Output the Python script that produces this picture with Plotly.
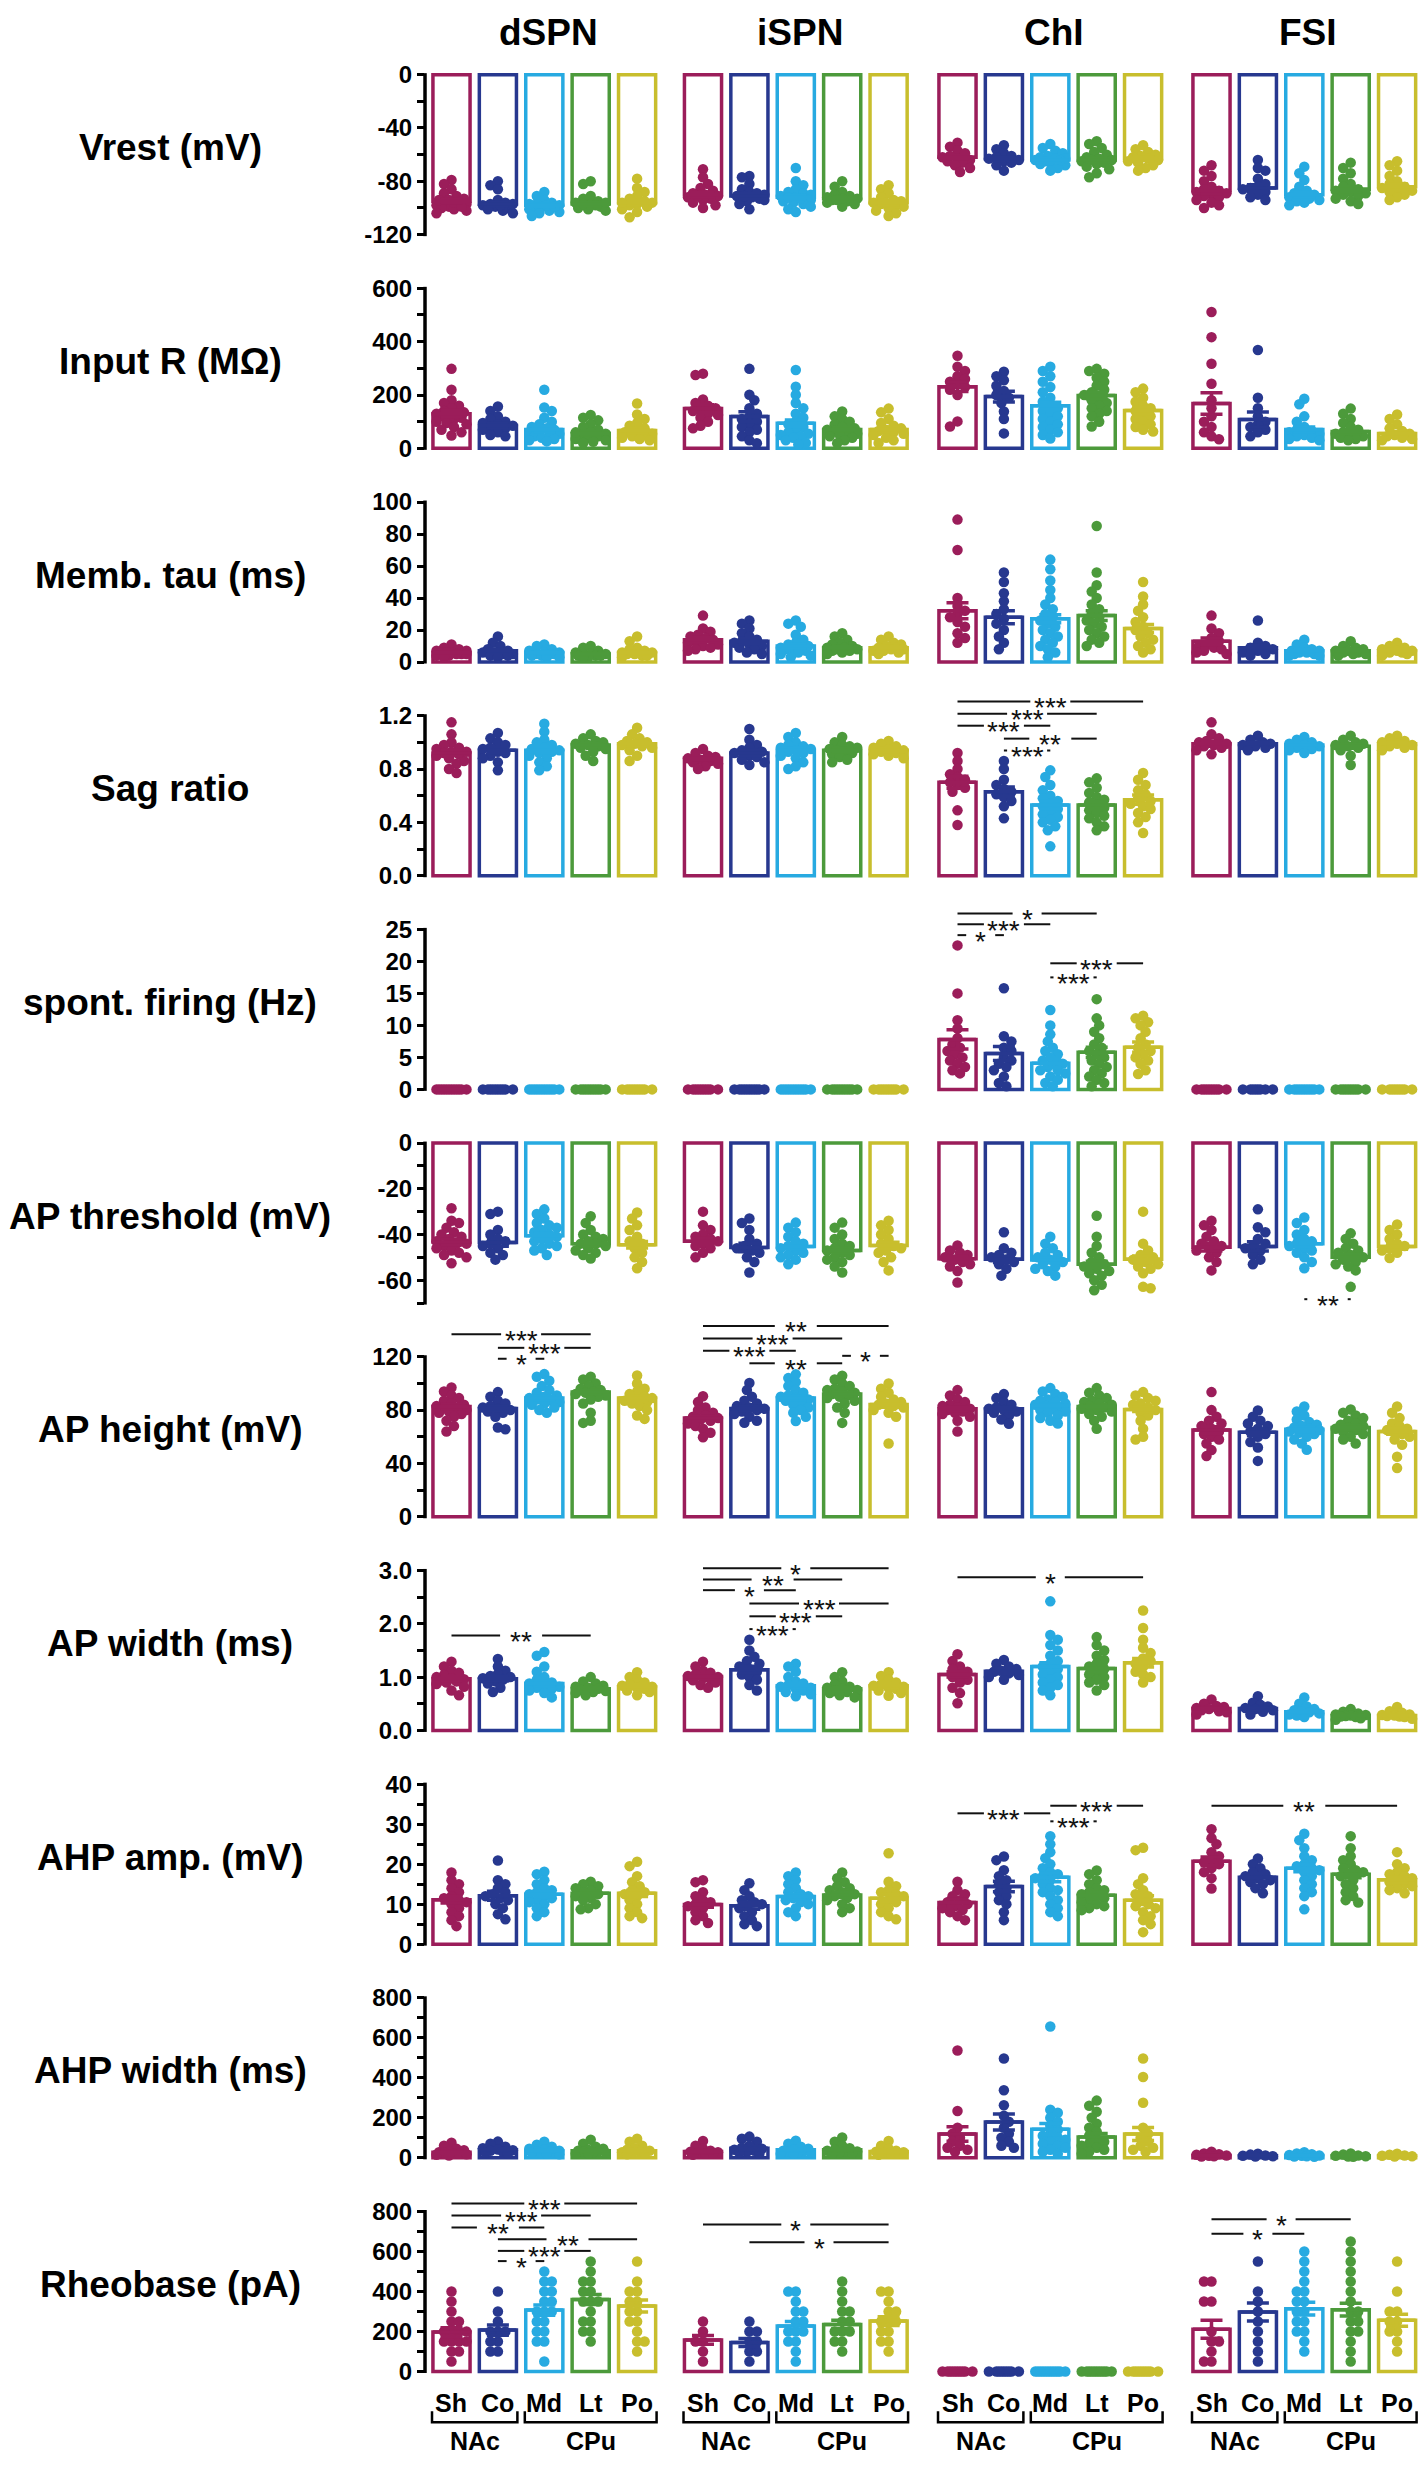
import math
import plotly.graph_objects as go

FONT = "Liberation Sans, Arial, Helvetica, sans-serif"

CELL_TYPES = ["dSPN", "iSPN", "ChI", "FSI"]
SUBREGIONS = ["Sh", "Co", "Md", "Lt", "Po"]
AREAS = ["NAc", "CPu"]
COLORS = ["#9B1D5A", "#27388F", "#27AAE1", "#4C9A3B", "#C8BE2D"]

ROW_LABELS = ["Vrest (mV)", "Input R (MΩ)", "Memb. tau (ms)", "Sag ratio",
              "spont. firing (Hz)", "AP threshold (mV)", "AP height (mV)",
              "AP width (ms)", "AHP amp. (mV)", "AHP width (ms)", "Rheobase (pA)"]

Y_TICKS = [
    [-120, -100, -80, -60, -40, -20, 0],
    [0, 100, 200, 300, 400, 500, 600],
    [0, 20, 40, 60, 80, 100],
    [0.0, 0.2, 0.4, 0.6, 0.8, 1.0, 1.2],
    [0, 5, 10, 15, 20, 25],
    [-70, -60, -50, -40, -30, -20, -10, 0],
    [0, 20, 40, 60, 80, 100, 120],
    [0.0, 0.5, 1.0, 1.5, 2.0, 2.5, 3.0],
    [0, 5, 10, 15, 20, 25, 30, 35, 40],
    [0, 100, 200, 300, 400, 500, 600, 700, 800],
    [0, 100, 200, 300, 400, 500, 600, 700, 800],
]
Y_TICK_TEXT = [
    ["-120", "", "-80", "", "-40", "", "0"],
    ["0", "", "200", "", "400", "", "600"],
    ["0", "20", "40", "60", "80", "100"],
    ["0.0", "", "0.4", "", "0.8", "", "1.2"],
    ["0", "5", "10", "15", "20", "25"],
    ["", "-60", "", "-40", "", "-20", "", "0"],
    ["0", "", "40", "", "80", "", "120"],
    ["0.0", "", "1.0", "", "2.0", "", "3.0"],
    ["0", "", "10", "", "20", "", "30", "", "40"],
    ["0", "", "200", "", "400", "", "600", "", "800"],
    ["0", "", "200", "", "400", "", "600", "", "800"],
]

# ---------------- data: means, SEM, individual cells ----------------
VREST_MEAN = [[-95, -97, -98, -97, -96], [-90, -91, -92, -93, -96],
              [-62, -63, -64, -64, -63], [-87, -85, -90, -86, -84]]
VREST_SEM = [[1.3, 1.4, 0.9, 1.1, 1.5], [1.6, 1.7, 1.3, 1.2, 1.4],
             [1.2, 1.3, 1.0, 1.3, 1.3], [2.2, 2.5, 1.8, 1.9, 2.0]]
VREST_DOTS = [
    [[-79, -82, -86, -89, -91, -93, -94, -95, -96, -97, -98, -99, -100, -101, -102, -104, -96, -94, -99],
     [-80, -83, -86, -94, -96, -97, -98, -99, -100, -101, -102, -104, -97, -98],
     [-88, -91, -94, -96, -97, -98, -99, -100, -101, -102, -103, -104, -106, -98, -99, -97],
     [-80, -82, -91, -93, -95, -96, -97, -98, -99, -100, -101, -102, -97, -96],
     [-78, -85, -88, -91, -93, -95, -96, -97, -98, -99, -101, -103, -107, -96]],
    [[-71, -77, -82, -85, -87, -89, -90, -91, -92, -93, -94, -96, -98, -100, -91],
     [-76, -77, -82, -86, -88, -89, -90, -91, -92, -93, -94, -95, -97, -101, -91],
     [-70, -80, -83, -86, -88, -89, -90, -91, -92, -93, -94, -95, -96, -97, -99, -101, -103, -92, -93],
     [-80, -84, -88, -90, -91, -92, -93, -94, -95, -96, -97, -99, -93, -94],
     [-83, -86, -89, -92, -94, -95, -96, -97, -98, -99, -100, -102, -104, -106, -96]],
    [[-51, -54, -57, -59, -61, -62, -63, -64, -65, -66, -68, -70, -73],
     [-53, -56, -59, -61, -62, -63, -64, -65, -66, -68, -72],
     [-52, -55, -57, -59, -61, -62, -63, -64, -65, -66, -67, -68, -70, -72, -63, -64],
     [-50, -52, -55, -58, -60, -62, -63, -64, -65, -66, -67, -69, -71, -74, -77, -64],
     [-53, -56, -58, -60, -61, -62, -63, -64, -65, -66, -68, -70, -72]],
    [[-68, -72, -76, -80, -84, -86, -87, -88, -89, -90, -91, -92, -94, -96, -98, -100],
     [-64, -70, -72, -78, -82, -84, -85, -86, -88, -90, -92, -94],
     [-69, -74, -79, -84, -87, -89, -90, -91, -92, -93, -94, -95, -96, -98],
     [-66, -70, -74, -78, -82, -84, -86, -87, -88, -89, -90, -91, -93, -95, -97],
     [-65, -68, -72, -76, -80, -82, -84, -85, -86, -87, -88, -90, -92, -94]],
]

INPUTR_MEAN = [[130, 86, 71, 56, 67], [149, 119, 94, 71, 71],
               [231, 194, 160, 198, 142], [168, 108, 71, 63, 56]]
INPUTR_SEM = [[12, 9, 10, 6, 9], [14, 18, 12, 6, 8],
              [18, 20, 13, 12, 11], [40, 28, 9, 7, 7]]
INPUTR_DOTS = [
    [[298, 220, 180, 170, 160, 150, 140, 130, 125, 120, 115, 110, 100, 95, 90, 80, 70, 60, 48, 135, 128],
     [157, 140, 120, 110, 100, 95, 90, 85, 80, 75, 70, 60, 50, 45],
     [220, 153, 140, 115, 100, 90, 80, 70, 65, 60, 55, 50, 45, 40, 35, 30, 26, 75],
     [125, 115, 105, 90, 80, 70, 60, 55, 50, 45, 40, 35, 30, 25, 20, 60],
     [168, 127, 110, 95, 85, 75, 65, 60, 55, 50, 45, 40, 35, 30]],
    [[280, 275, 183, 170, 160, 150, 145, 140, 130, 125, 115, 100, 85, 75],
     [298, 201, 180, 150, 130, 120, 110, 100, 90, 80, 70, 60, 45, 30, 19],
     [294, 231, 201, 170, 150, 130, 115, 100, 90, 80, 70, 60, 55, 50, 45, 40, 30, 20, 14],
     [138, 120, 110, 100, 90, 80, 75, 70, 65, 60, 55, 50, 45, 40, 30, 19],
     [149, 135, 110, 95, 85, 75, 70, 65, 60, 55, 50, 40, 30, 20]],
    [[347, 306, 290, 270, 260, 250, 240, 230, 220, 200, 101, 82],
     [287, 270, 255, 235, 215, 200, 190, 170, 138, 110, 56],
     [306, 290, 270, 250, 230, 210, 190, 175, 160, 150, 140, 130, 120, 110, 100, 90, 80, 70, 60, 50, 37],
     [298, 290, 280, 265, 250, 235, 220, 210, 200, 190, 180, 170, 160, 150, 140, 130, 120, 100, 82],
     [224, 210, 190, 175, 160, 150, 140, 130, 120, 110, 100, 90, 80, 70, 63]],
    [[511, 417, 317, 242, 180, 150, 120, 100, 80, 60, 45, 34],
     [369, 190, 150, 120, 100, 90, 80, 70, 60, 45],
     [186, 165, 120, 100, 80, 70, 65, 60, 55, 50, 45, 40, 35, 30],
     [149, 130, 110, 95, 80, 70, 60, 55, 50, 45, 40, 35, 30],
     [127, 110, 90, 75, 65, 55, 50, 45, 40, 35, 30]],
]

TAU_MEAN = [[6, 7, 6, 5, 6], [14, 13, 10, 9, 9], [32, 28, 27, 29, 21], [13, 9, 7, 7, 7]]
TAU_SEM = [[0.5, 0.9, 0.6, 0.4, 0.8], [1.4, 1.6, 1.1, 0.7, 0.7],
           [5.0, 4.0, 2.5, 3.0, 2.5], [2.0, 1.6, 0.7, 0.6, 0.6]]
TAU_DOTS = [
    [[11, 9, 8, 7, 7, 6, 6, 6, 5, 5, 5, 4, 4, 3],
     [16, 12, 10, 8, 7, 6, 6, 5, 5, 4, 4, 3],
     [11, 10, 8, 7, 6, 6, 5, 5, 5, 4, 4, 3, 3],
     [10, 9, 7, 6, 5, 5, 5, 4, 4, 4, 3, 3],
     [16, 13, 9, 8, 7, 6, 6, 5, 5, 4, 4, 3]],
    [[29, 21, 19, 17, 16, 15, 14, 13, 12, 11, 10, 9, 8, 7],
     [26, 24, 21, 18, 16, 14, 13, 12, 11, 10, 9, 8, 6, 5],
     [26, 24, 22, 17, 14, 12, 11, 10, 9, 9, 8, 8, 7, 6, 5, 4, 3],
     [18, 16, 14, 12, 11, 10, 9, 9, 8, 8, 7, 7, 6, 5],
     [16, 14, 12, 11, 10, 9, 9, 8, 8, 7, 7, 6, 5]],
    [[89, 70, 40, 35, 32, 30, 28, 25, 22, 18, 15, 12],
     [56, 50, 43, 38, 33, 30, 27, 24, 20, 16, 12, 8],
     [64, 58, 51, 45, 40, 36, 33, 30, 28, 26, 24, 22, 20, 18, 16, 14, 12, 10, 8, 6, 3],
     [85, 56, 48, 44, 40, 36, 33, 30, 28, 26, 24, 22, 20, 18, 16, 14, 12, 10],
     [50, 41, 36, 32, 28, 25, 22, 20, 18, 16, 14, 12, 10, 8, 6]],
    [[29, 21, 18, 15, 13, 11, 10, 9, 8, 7, 6, 5],
     [26, 12, 10, 9, 8, 7, 6, 5, 4],
     [14, 11, 9, 8, 7, 7, 6, 6, 5, 5, 4, 4],
     [13, 10, 9, 8, 7, 7, 6, 6, 5, 5, 4],
     [12, 10, 9, 8, 7, 7, 6, 6, 5, 4]],
]

SAG_MEAN = [[0.92, 0.94, 0.94, 0.98, 0.99], [0.88, 0.92, 0.94, 0.94, 0.94],
            [0.70, 0.63, 0.53, 0.53, 0.57], [0.99, 0.99, 0.98, 0.97, 0.99]]
SAG_SEM = [[0.02, 0.02, 0.02, 0.01, 0.015], [0.012, 0.02, 0.015, 0.012, 0.012],
           [0.045, 0.035, 0.03, 0.025, 0.035], [0.02, 0.012, 0.01, 0.015, 0.012]]
SAG_DOTS = [
    [[1.15, 1.06, 1.0, 0.98, 0.96, 0.95, 0.93, 0.92, 0.91, 0.90, 0.88, 0.86, 0.84, 0.80, 0.77, 0.93],
     [1.07, 1.03, 1.0, 0.98, 0.96, 0.95, 0.93, 0.92, 0.90, 0.88, 0.85, 0.79],
     [1.14, 1.08, 1.02, 1.0, 0.98, 0.96, 0.95, 0.94, 0.93, 0.92, 0.90, 0.88, 0.85, 0.82, 0.79],
     [1.06, 1.03, 1.01, 1.0, 0.99, 0.98, 0.97, 0.96, 0.95, 0.93, 0.90, 0.86],
     [1.11, 1.06, 1.03, 1.01, 1.0, 0.99, 0.98, 0.97, 0.96, 0.94, 0.90, 0.86]],
    [[0.95, 0.92, 0.90, 0.89, 0.88, 0.87, 0.86, 0.85, 0.84, 0.82, 0.80],
     [1.10, 1.02, 0.98, 0.96, 0.94, 0.93, 0.92, 0.90, 0.89, 0.87, 0.85, 0.83],
     [1.07, 1.04, 1.0, 0.98, 0.97, 0.96, 0.95, 0.94, 0.93, 0.92, 0.90, 0.88, 0.85, 0.82, 0.80],
     [1.04, 1.0, 0.98, 0.97, 0.96, 0.95, 0.94, 0.93, 0.92, 0.91, 0.89, 0.87, 0.85],
     [1.01, 0.99, 0.97, 0.96, 0.95, 0.94, 0.93, 0.92, 0.91, 0.90, 0.88]],
    [[0.92, 0.86, 0.80, 0.76, 0.74, 0.72, 0.70, 0.68, 0.66, 0.63, 0.49, 0.38],
     [0.86, 0.80, 0.72, 0.68, 0.65, 0.63, 0.61, 0.59, 0.56, 0.52, 0.43],
     [0.79, 0.74, 0.68, 0.64, 0.60, 0.58, 0.56, 0.54, 0.52, 0.50, 0.48, 0.46, 0.44, 0.42, 0.40, 0.37, 0.34, 0.22],
     [0.73, 0.70, 0.66, 0.62, 0.59, 0.57, 0.55, 0.53, 0.51, 0.49, 0.47, 0.45, 0.43, 0.40, 0.37, 0.34],
     [0.77, 0.72, 0.68, 0.64, 0.61, 0.58, 0.56, 0.54, 0.52, 0.50, 0.47, 0.44, 0.40, 0.32]],
    [[1.15, 1.06, 1.03, 1.01, 1.0, 0.99, 0.98, 0.97, 0.96, 0.94, 0.91],
     [1.05, 1.02, 1.0, 0.99, 0.98, 0.97, 0.96, 0.94],
     [1.04, 1.02, 1.0, 0.99, 0.98, 0.97, 0.96, 0.95, 0.94, 0.92],
     [1.05, 1.02, 1.0, 0.99, 0.98, 0.97, 0.96, 0.94, 0.90, 0.83],
     [1.05, 1.03, 1.01, 1.0, 0.99, 0.98, 0.97, 0.96, 0.94]],
]

SPONT_MEAN = [[0, 0, 0, 0, 0], [0, 0, 0, 0, 0], [7.8, 5.6, 4.1, 5.8, 6.6], [0, 0, 0, 0, 0]]
SPONT_SEM = [[0, 0, 0, 0, 0], [0, 0, 0, 0, 0], [1.5, 1.1, 0.7, 0.8, 0.8], [0, 0, 0, 0, 0]]
SPONT_DOTS = [
    [[0, 0, 0, 0, 0, 0, 0, 0, 0, 0, 0, 0], [0, 0, 0, 0, 0, 0, 0, 0, 0, 0],
     [0, 0, 0, 0, 0, 0, 0, 0, 0, 0, 0, 0], [0, 0, 0, 0, 0, 0, 0, 0, 0, 0, 0],
     [0, 0, 0, 0, 0, 0, 0, 0, 0, 0]],
    [[0, 0, 0, 0, 0, 0, 0, 0, 0, 0], [0, 0, 0, 0, 0, 0, 0, 0, 0, 0, 0],
     [0, 0, 0, 0, 0, 0, 0, 0, 0, 0, 0, 0], [0, 0, 0, 0, 0, 0, 0, 0, 0, 0, 0],
     [0, 0, 0, 0, 0, 0, 0, 0, 0, 0]],
    [[22.5, 15, 10.8, 9.5, 8, 7, 6.5, 6, 5.5, 5, 4.5, 4, 3.5, 3, 2.5],
     [15.8, 8.3, 7.5, 6.5, 6, 5, 4.5, 4, 3.5, 3, 2, 1, 0.5],
     [12.4, 10, 8.6, 7.5, 6.5, 6, 5.5, 5, 4.5, 4, 3.5, 3, 2.5, 2, 1.5, 1, 0.5, 4, 3],
     [14.1, 11.1, 10, 9, 8, 7, 6.5, 6, 5.5, 5, 4.5, 4, 3.5, 3, 2.5, 2, 1.5, 1, 0.5],
     [11.5, 11.1, 10.5, 10, 9, 8, 7, 6.5, 6, 5.5, 5, 4.5, 4, 3, 2.4]],
    [[0, 0, 0, 0, 0, 0, 0, 0, 0, 0], [0, 0, 0, 0, 0, 0, 0, 0],
     [0, 0, 0, 0, 0, 0, 0, 0, 0, 0, 0], [0, 0, 0, 0, 0, 0, 0, 0, 0, 0],
     [0, 0, 0, 0, 0, 0, 0, 0, 0]],
]

THRESH_MEAN = [[-43.3, -43.5, -40.5, -44, -44.5], [-43, -45.7, -45.2, -47, -44.8],
               [-50.6, -50.8, -51.2, -53, -50.8], [-45.6, -45.2, -44, -50, -45.2]]
THRESH_SEM = [[1.3, 1.6, 1.1, 0.9, 1.4], [1.3, 1.9, 1.1, 1.1, 1.4],
              [1.1, 1.3, 0.9, 1.3, 1.4], [1.6, 2.0, 1.3, 1.3, 1.2]]
THRESH_DOTS = [
    [[-28.5, -34, -35, -37, -39, -40, -41, -42, -43, -44, -45, -46, -47, -48, -49, -50, -52.6, -44],
     [-30, -31, -38, -40, -42, -43, -44, -45, -46, -48, -49, -51],
     [-29, -31, -33, -35, -36, -37, -38, -39, -40, -41, -42, -43, -44, -45, -46, -47, -49],
     [-32, -35, -38, -40, -41, -42, -43, -44, -45, -46, -47, -48, -49, -50.5, -44],
     [-30.4, -33, -36, -38, -41, -43, -44, -46, -48, -50, -52, -54.8]],
    [[-30, -36, -38, -40, -41, -42, -43, -44, -45, -46, -48, -50],
     [-33, -35, -38, -42, -44, -45, -46, -47, -48, -50, -52, -56.6],
     [-34.8, -37, -39, -41, -43, -44, -45, -46, -47, -48, -49, -50, -51, -53],
     [-34.8, -37, -40, -42, -44, -45, -46, -47, -48, -49, -50, -51, -52, -54, -56.6],
     [-34, -36, -38, -40, -42, -44, -45, -46, -47, -48, -50, -52, -55.7]],
    [[-44.8, -47, -48, -49, -50, -51, -52, -53, -54, -56, -61],
     [-39, -46, -48, -49, -50, -51, -52, -53, -55, -58],
     [-41, -44, -46, -48, -49, -50, -51, -52, -53, -54, -55, -56, -58],
     [-31.8, -41, -45, -48, -50, -52, -53, -54, -55, -56, -57, -58, -60, -62, -64.4],
     [-30, -44, -47, -49, -50, -51, -52, -53, -54, -55, -57, -62.9, -63.5]],
    [[-34, -36, -38, -41, -43, -44, -45, -46, -47, -48, -50, -52, -55.7],
     [-29, -36.8, -39, -42, -44, -45, -46, -47, -49, -51, -53],
     [-32.6, -35, -38, -40, -42, -43, -44, -45, -46, -47, -48, -50, -52, -54.8],
     [-39.5, -42, -44, -46, -47, -48, -49, -50, -51, -52, -53, -54, -55.7, -62.9],
     [-35.6, -38, -40, -42, -44, -45, -46, -47, -48, -50.3]],
]

HEIGHT_MEAN = [[82.7, 81.2, 89, 93.5, 89], [74, 81.2, 89, 92, 84.2],
               [81, 81, 83.5, 82.7, 80.5], [65, 63.3, 65.6, 67, 64]]
HEIGHT_SEM = [[1.6, 1.9, 1.4, 1.3, 1.6], [1.6, 1.9, 1.4, 1.3, 2.1],
              [1.3, 1.4, 1.1, 1.1, 1.5], [2.6, 2.6, 1.6, 1.6, 2.2]]
HEIGHT_DOTS = [
    [[97, 94, 91, 89, 87, 85, 84, 83, 82, 81, 80, 79, 78, 77, 75, 72, 68, 64],
     [93.5, 90, 87, 85, 83, 82, 81, 80, 79, 78, 75, 67, 65.6],
     [107, 105, 102, 98, 95, 93, 91, 90, 89, 88, 87, 86, 85, 84, 82, 80, 78],
     [105, 103, 100, 98, 96, 95, 94, 93, 92, 91, 90, 88, 85, 78, 72, 70.4],
     [106, 100, 96, 94, 92, 90, 89, 88, 87, 86, 85, 83, 80, 76, 73.4]],
    [[90.4, 86, 82, 80, 78, 76, 75, 74, 73, 72, 70, 68, 66, 63, 59.6],
     [100.3, 95, 90, 87, 85, 83, 82, 81, 80, 79, 77, 75, 72, 70.5],
     [106.8, 104, 101, 98, 95, 93, 91, 90, 89, 88, 87, 86, 84, 82, 80, 78, 75, 71.8],
     [105.8, 103, 100, 98, 96, 95, 94, 93, 92, 91, 90, 89, 87, 85, 82, 78, 70.4],
     [99.9, 96, 93, 90, 88, 86, 85, 84, 83, 82, 80, 78, 75, 54.9]],
    [[95, 91, 88, 86, 84, 83, 82, 81, 80, 79, 78, 77, 75, 72, 64],
     [92, 89, 86, 84, 82, 81, 80, 79, 78, 76, 73, 69.7],
     [96.5, 94, 92, 90, 88, 87, 86, 85, 84, 83, 82, 81, 80, 79, 78, 76, 74, 72, 70],
     [96.5, 93, 91, 89, 87, 86, 85, 84, 83, 82, 81, 80, 79, 77, 75, 72, 66],
     [93.5, 91, 89, 87, 85, 84, 82, 80, 78, 76, 72, 66, 60, 58]],
    [[93.5, 80, 75, 72, 70, 68, 66, 64, 62, 60, 58, 55, 50, 45.5],
     [79.7, 75, 72, 70, 68, 66, 64, 62, 60, 56, 52, 41.9],
     [82.7, 79, 76, 73, 71, 69, 68, 67, 66, 65, 64, 63, 62, 60, 58, 55, 50.2],
     [80.5, 78, 76, 74, 72, 70, 69, 68, 67, 66, 65, 64, 62, 60, 58, 55],
     [82.7, 78, 74, 70, 68, 66, 65, 64, 62, 60, 58, 54, 45, 36.5]],
]

WIDTH_MEAN = [[0.97, 0.97, 0.88, 0.78, 0.82], [1.01, 1.14, 0.84, 0.78, 0.84],
              [1.05, 1.11, 1.20, 1.16, 1.27], [0.41, 0.41, 0.35, 0.28, 0.28]]
WIDTH_SEM = [[0.035, 0.045, 0.045, 0.025, 0.035], [0.035, 0.065, 0.035, 0.025, 0.035],
             [0.05, 0.045, 0.07, 0.055, 0.08], [0.025, 0.025, 0.02, 0.012, 0.012]]
WIDTH_DOTS = [
    [[1.29, 1.2, 1.12, 1.08, 1.04, 1.0, 0.98, 0.96, 0.94, 0.92, 0.9, 0.87, 0.82, 0.75, 0.66],
     [1.34, 1.2, 1.12, 1.06, 1.02, 1.0, 0.98, 0.95, 0.92, 0.88, 0.8, 0.72],
     [1.47, 1.4, 1.2, 1.1, 1.0, 0.95, 0.9, 0.88, 0.85, 0.82, 0.8, 0.78, 0.75, 0.7, 0.62],
     [1.0, 0.92, 0.88, 0.84, 0.82, 0.8, 0.78, 0.76, 0.74, 0.72, 0.7, 0.66],
     [1.09, 1.0, 0.95, 0.9, 0.86, 0.84, 0.82, 0.8, 0.78, 0.75, 0.72, 0.66]],
    [[1.29, 1.2, 1.12, 1.08, 1.05, 1.02, 1.0, 0.98, 0.96, 0.94, 0.9, 0.85, 0.8],
     [1.7, 1.5, 1.38, 1.3, 1.25, 1.2, 1.15, 1.1, 1.05, 1.0, 0.95, 0.85, 0.75],
     [1.25, 1.2, 1.1, 1.0, 0.92, 0.88, 0.85, 0.82, 0.8, 0.78, 0.75, 0.72, 0.68, 0.64],
     [1.09, 1.0, 0.92, 0.86, 0.82, 0.8, 0.78, 0.76, 0.74, 0.72, 0.7, 0.66, 0.62],
     [1.09, 1.02, 0.95, 0.9, 0.86, 0.84, 0.82, 0.8, 0.78, 0.75, 0.7, 0.65]],
    [[1.43, 1.3, 1.2, 1.15, 1.1, 1.05, 1.0, 0.95, 0.9, 0.8, 0.7, 0.51],
     [1.32, 1.25, 1.2, 1.15, 1.12, 1.1, 1.07, 1.04, 1.0, 0.95],
     [2.42, 1.79, 1.7, 1.6, 1.5, 1.4, 1.3, 1.25, 1.2, 1.15, 1.1, 1.05, 1.0, 0.95, 0.9, 0.85, 0.8, 0.75, 0.66],
     [1.75, 1.6, 1.5, 1.4, 1.32, 1.25, 1.2, 1.15, 1.1, 1.05, 1.0, 0.95, 0.9, 0.85, 0.75],
     [2.25, 1.92, 1.7, 1.55, 1.45, 1.35, 1.3, 1.25, 1.2, 1.1, 1.05, 1.0, 0.9]],
    [[0.58, 0.5, 0.46, 0.44, 0.42, 0.4, 0.38, 0.36, 0.34, 0.3],
     [0.64, 0.52, 0.48, 0.45, 0.42, 0.4, 0.38, 0.35, 0.3],
     [0.62, 0.5, 0.45, 0.4, 0.38, 0.36, 0.34, 0.32, 0.3, 0.28, 0.25],
     [0.4, 0.35, 0.32, 0.3, 0.29, 0.28, 0.27, 0.26, 0.25, 0.23, 0.2],
     [0.44, 0.36, 0.33, 0.3, 0.29, 0.28, 0.27, 0.26, 0.25, 0.22]],
]

AHPAMP_MEAN = [[11.1, 12.1, 12.5, 12.7, 12.7], [9.9, 9.6, 11.9, 12.3, 11.5],
               [10.4, 14.4, 16.7, 12.2, 11.0], [20.7, 16.7, 19.0, 17.5, 16.1]]
AHPAMP_SEM = [[0.8, 1.1, 0.7, 0.5, 0.8], [0.7, 0.9, 0.6, 0.6, 0.9],
              [0.9, 1.3, 1.1, 0.8, 1.1], [1.1, 0.9, 0.9, 0.9, 0.7]]
AHPAMP_DOTS = [
    [[17.9, 16, 15, 14, 13, 12, 11.5, 11, 10.5, 10, 9, 8, 7, 6, 4.5],
     [20.9, 16, 15, 14, 13, 12.5, 12, 11.5, 11, 10, 9, 7.5, 6.2],
     [18.1, 17.5, 16, 15, 14, 13.5, 13, 12.5, 12, 11.5, 11, 10.5, 10, 9, 8, 7],
     [15.6, 15, 14.5, 14, 13.5, 13, 12.5, 12, 11.5, 11, 10, 9, 8.7],
     [20.6, 19.5, 17, 15.5, 14.5, 13.5, 13, 12.5, 12, 11, 10, 9, 8, 7, 6.5]],
    [[16, 15.5, 13, 12, 11, 10.5, 10, 9.5, 9, 8, 7, 6, 5.3],
     [15.2, 13.5, 12, 11, 10.5, 10, 9.5, 9, 8, 7, 6, 5, 4.5],
     [17.9, 17, 16, 15, 14, 13, 12.5, 12, 11.5, 11, 10.5, 10, 9, 8, 7],
     [17.9, 16.5, 15.5, 14.5, 14, 13.5, 13, 12.5, 12, 11.5, 11, 10, 9, 8],
     [22.7, 15.6, 14.5, 13.5, 13, 12.5, 12, 11, 10.5, 10, 9, 8, 7, 6.2]],
    [[15.6, 13.5, 12.5, 12, 11, 10.5, 10, 9.5, 9, 8.5, 8, 7, 6],
     [21.9, 21, 18.5, 17, 16, 15, 14, 13, 12, 11, 10, 8, 6],
     [27, 25, 23, 21.5, 20, 19, 18, 17.5, 17, 16.5, 16, 15, 14, 13.5, 13, 12, 11, 10, 9, 8, 7],
     [18.4, 17.5, 16, 15, 14, 13.5, 13, 12.5, 12, 11.5, 11, 10.5, 10, 9.5, 9, 8.5],
     [24.1, 23.5, 16.5, 15, 13.5, 12.5, 12, 11, 10, 9.5, 9, 8, 7, 6, 5, 3]],
    [[28.7, 26.5, 25, 23, 22, 21, 20.5, 20, 19, 18, 16.5, 13.9],
     [21.4, 20, 19, 18, 17.5, 17, 16.5, 16, 15.5, 15, 14, 12.7],
     [27.6, 26, 24, 22, 21, 20, 19.5, 19, 18.5, 18, 17, 16, 15, 14, 13, 12, 8.7],
     [27, 24, 22, 21, 20, 19, 18.5, 18, 17.5, 17, 16, 15, 14, 13, 12, 11, 10.4],
     [23, 20, 19, 18, 17.5, 17, 16.5, 16, 15.5, 15, 14.5, 14, 13.5, 12.7]],
]

AHPWIDTH_MEAN = [[28, 40, 35, 35, 35], [31, 48, 40, 40, 31],
                 [119, 179, 143, 104, 119], [12, 10, 12, 10, 10]]
AHPWIDTH_SEM = [[5, 5, 4, 4, 5], [5, 7, 5, 5, 5], [36, 40, 28, 18, 32], [1.5, 1.2, 1.2, 1, 1]]
AHPWIDTH_DOTS = [
    [[75, 60, 45, 38, 32, 28, 25, 22, 20, 18, 15, 12],
     [81, 70, 55, 48, 42, 38, 35, 30, 25, 20],
     [80, 65, 55, 45, 40, 35, 32, 30, 28, 25, 22, 20, 18],
     [90, 70, 55, 45, 40, 35, 32, 30, 28, 25, 22, 20],
     [95, 80, 60, 48, 40, 35, 30, 28, 25, 22, 18]],
    [[84, 60, 45, 35, 30, 28, 25, 22, 20, 15],
     [106, 95, 80, 60, 50, 45, 40, 35, 30, 25, 20],
     [85, 70, 55, 45, 40, 35, 32, 30, 28, 25, 22, 20],
     [102, 80, 60, 48, 40, 35, 32, 30, 28, 25, 22],
     [84, 60, 45, 35, 30, 28, 25, 22, 20, 15]],
    [[537, 234, 150, 120, 100, 80, 60, 50, 40, 30],
     [497, 338, 263, 210, 180, 150, 120, 100, 80, 60, 50],
     [657, 240, 225, 200, 180, 160, 140, 120, 110, 100, 90, 80, 70, 60, 50, 40, 30, 20],
     [286, 260, 230, 200, 170, 150, 130, 110, 90, 80, 70, 60, 50, 40, 30, 20],
     [497, 404, 275, 150, 120, 100, 80, 60, 50, 40, 30]],
    [[30, 22, 18, 15, 12, 10, 8, 6],
     [20, 16, 12, 10, 8, 6],
     [28, 22, 18, 14, 12, 10, 8, 6, 5],
     [22, 16, 12, 10, 8, 6, 5],
     [20, 15, 12, 10, 8, 6]],
]

RHEO_MEAN = [[197, 207, 307, 360, 327], [158, 145, 228, 235, 252],
             [0, 0, 0, 0, 0], [211, 298, 314, 309, 256]]
RHEO_SEM = [[22, 26, 26, 25, 30], [22, 20, 22, 21, 22], [0, 0, 0, 0, 0], [45, 45, 32, 32, 30]]
RHEO_DOTS = [
    [[400, 350, 300, 250, 200, 200, 200, 150, 150, 150, 150, 100, 100, 50, 200, 250],
     [400, 300, 250, 200, 200, 200, 150, 150, 100, 100],
     [500, 450, 450, 400, 400, 350, 350, 300, 300, 300, 250, 250, 200, 200, 150, 150, 50],
     [550, 500, 450, 450, 400, 400, 350, 350, 350, 300, 250, 250, 200, 200, 150],
     [550, 450, 400, 400, 350, 350, 300, 300, 250, 250, 200, 150, 150, 100]],
    [[250, 200, 150, 150, 100, 50],
     [250, 200, 200, 150, 150, 100, 100, 50],
     [400, 400, 350, 300, 300, 250, 250, 200, 200, 200, 150, 150, 100, 50],
     [450, 400, 350, 300, 300, 250, 250, 200, 200, 200, 150, 150, 100],
     [400, 400, 350, 300, 300, 250, 250, 250, 200, 200, 150, 150, 100]],
    [[0, 0, 0, 0, 0, 0, 0, 0, 0, 0], [0, 0, 0, 0, 0, 0, 0, 0, 0],
     [0, 0, 0, 0, 0, 0, 0, 0, 0, 0, 0, 0], [0, 0, 0, 0, 0, 0, 0, 0, 0, 0, 0],
     [0, 0, 0, 0, 0, 0, 0, 0, 0, 0]],
    [[450, 450, 350, 350, 200, 150, 150, 100, 50, 50],
     [550, 400, 350, 300, 250, 200, 150, 100, 50],
     [600, 550, 500, 450, 400, 400, 350, 350, 300, 300, 250, 250, 200, 200, 150, 100],
     [650, 600, 550, 500, 450, 400, 350, 300, 300, 250, 250, 200, 200, 150, 100, 50],
     [550, 400, 300, 300, 250, 250, 200, 200, 150, 100]],
]

ROWS = [
    (VREST_MEAN, VREST_SEM, VREST_DOTS),
    (INPUTR_MEAN, INPUTR_SEM, INPUTR_DOTS),
    (TAU_MEAN, TAU_SEM, TAU_DOTS),
    (SAG_MEAN, SAG_SEM, SAG_DOTS),
    (SPONT_MEAN, SPONT_SEM, SPONT_DOTS),
    (THRESH_MEAN, THRESH_SEM, THRESH_DOTS),
    (HEIGHT_MEAN, HEIGHT_SEM, HEIGHT_DOTS),
    (WIDTH_MEAN, WIDTH_SEM, WIDTH_DOTS),
    (AHPAMP_MEAN, AHPAMP_SEM, AHPAMP_DOTS),
    (AHPWIDTH_MEAN, AHPWIDTH_SEM, AHPWIDTH_DOTS),
    (RHEO_MEAN, RHEO_SEM, RHEO_DOTS),
]

# significance: (row, cell type, group a, group b, label, level in data units)
SIGNIFICANCE = [
    (3, 2, 0, 4, "***", 1.306), (3, 2, 0, 3, "***", 1.214), (3, 2, 0, 2, "***", 1.125),
    (3, 2, 1, 3, "**", 1.028), (3, 2, 1, 2, "***", 0.939),
    (4, 2, 0, 3, "*", 27.5), (4, 2, 0, 2, "***", 25.8), (4, 2, 0, 1, "*", 24.1),
    (4, 2, 2, 4, "***", 19.7), (4, 2, 2, 3, "***", 17.5),
    (5, 3, 2, 3, "**", -68.3),
    (6, 0, 0, 3, "***", 136.8), (6, 0, 1, 3, "***", 126.7), (6, 0, 1, 2, "*", 118.5),
    (6, 1, 0, 4, "**", 143.1), (6, 1, 0, 3, "***", 133.7), (6, 1, 0, 2, "***", 124.5),
    (6, 1, 1, 3, "**", 115.1), (6, 1, 3, 4, "*", 120.7),
    (7, 0, 0, 3, "**", 1.78),
    (7, 1, 0, 4, "*", 3.04), (7, 1, 0, 3, "**", 2.83), (7, 1, 0, 2, "*", 2.63),
    (7, 1, 1, 4, "***", 2.38), (7, 1, 1, 3, "***", 2.14), (7, 1, 1, 2, "***", 1.90),
    (7, 2, 0, 4, "*", 2.87),
    (8, 2, 0, 2, "***", 32.7), (8, 2, 2, 4, "***", 34.6), (8, 2, 2, 3, "***", 30.7),
    (8, 3, 0, 4, "**", 34.6),
    (10, 0, 0, 4, "***", 840), (10, 0, 0, 3, "***", 780), (10, 0, 0, 2, "**", 720),
    (10, 0, 1, 4, "**", 661), (10, 0, 1, 3, "***", 603), (10, 0, 1, 2, "*", 552),
    (10, 1, 0, 4, "*", 735), (10, 1, 1, 4, "*", 646),
    (10, 3, 0, 3, "*", 761), (10, 3, 0, 2, "*", 689),
]

# ---------------- geometry (page pixels) ----------------
PAGE_OFF = 8
FIG_W, FIG_H = 1412, 2453
ROW_TOP0, ROW_STEP, PANEL_H = 67, 215, 161
COL_SH = [451.5, 703, 957.5, 1211.5]
CAT_STEP = 46.4
X_LO, X_HI = -0.571, 4.45
PAD = 6
BAR_W = 0.8
DOT = 10.5


def fx(p):
    return (p - PAGE_OFF) / FIG_W


def fy(p):
    return 1 - (p - PAGE_OFF) / FIG_H


def page_x(c, xd):
    return COL_SH[c] + xd * CAT_STEP


def page_y(r, v):
    lo, hi = Y_TICKS[r][0], Y_TICKS[r][-1]
    top = ROW_TOP0 + ROW_STEP * r
    return top + PANEL_H - (v - lo) / (hi - lo) * PANEL_H


def swarm(vals, ppu_y, d=7.5, maxoff=15.0, step=2.5):
    order = sorted(range(len(vals)), key=lambda k: -vals[k])
    placed = []
    offs = [0.0] * len(vals)
    cands = [0.0]
    m = 1
    while m * step <= maxoff:
        cands += [m * step, -m * step]
        m += 1
    for n, k in enumerate(order):
        y = vals[k] * ppu_y
        best, best_d, chosen = 0.0, -1.0, None
        cl = cands if n % 2 == 0 else [(-c) for c in cands]
        for cx in cl:
            md = min([math.hypot(cx - px, y - py) for px, py in placed] or [1e9])
            if md >= d:
                chosen = cx
                break
            if md > best_d:
                best_d, best = md, cx
        if chosen is None:
            chosen = best
        placed.append((chosen, y))
        offs[k] = chosen / CAT_STEP
    return offs


fig = go.Figure()
layout = dict(width=FIG_W, height=FIG_H, margin=dict(l=0, r=0, t=0, b=0),
              paper_bgcolor="white", plot_bgcolor="rgba(0,0,0,0)",
              showlegend=False, font=dict(family=FONT, color="black"))
shapes = []
annotations = []

for r, (MEAN, SEM, DOTS) in enumerate(ROWS):
    lo, hi = Y_TICKS[r][0], Y_TICKS[r][-1]
    u = (hi - lo) / PANEL_H
    top = ROW_TOP0 + ROW_STEP * r
    bot = top + PANEL_H
    for c in range(4):
        n = r * 4 + c + 1
        xid = "x" if n == 1 else "x%d" % n
        yid = "y" if n == 1 else "y%d" % n
        layout["xaxis" if n == 1 else "xaxis%d" % n] = dict(
            domain=[fx(page_x(c, X_LO)), fx(page_x(c, X_HI))], range=[X_LO, X_HI],
            anchor=yid, showgrid=False, zeroline=False, showline=False,
            showticklabels=False, ticks="", fixedrange=True)
        layout["yaxis" if n == 1 else "yaxis%d" % n] = dict(
            domain=[fy(bot + PAD), fy(top - PAD)], range=[lo - PAD * u, hi + PAD * u],
            anchor=xid, showgrid=False, zeroline=False, showline=False, fixedrange=True,
            tickmode="array", tickvals=Y_TICKS[r], ticktext=Y_TICK_TEXT[r],
            ticks="outside" if c == 0 else "", ticklen=7, tickwidth=3, tickcolor="black",
            showticklabels=(c == 0),
            tickfont=dict(family=FONT, size=24, color="black", weight="bold"))

        fig.add_trace(go.Bar(
            x=list(range(5)), y=MEAN[c], width=BAR_W, xaxis=xid, yaxis=yid,
            marker=dict(color="rgba(255,255,255,0)", line=dict(color=COLORS, width=3.5)),
            hoverinfo="skip"))
        xs, ys, cs = [], [], []
        for i in range(5):
            offs = swarm(DOTS[c][i], PANEL_H / (hi - lo))
            for v, o in zip(DOTS[c][i], offs):
                xs.append(i + o)
                ys.append(v)
                cs.append(COLORS[i])
        fig.add_trace(go.Scatter(x=xs, y=ys, mode="markers", xaxis=xid, yaxis=yid,
                                 marker=dict(size=DOT, color=cs, line=dict(width=0)),
                                 cliponaxis=False, hoverinfo="skip"))
        for i in range(5):
            m = MEAN[c][i]
            fig.add_trace(go.Scatter(
                x=[i, i - BAR_W / 2, i + BAR_W / 2], y=[m, m, m], mode="lines",
                xaxis=xid, yaxis=yid, line=dict(color=COLORS[i], width=3.5),
                error_y=dict(type="data", array=[SEM[c][i]], visible=True,
                             color=COLORS[i], thickness=3.5, width=11),
                hoverinfo="skip"))

    # y axis line on the first column
    ax_x = fx(page_x(0, X_LO))
    shapes.append(dict(type="line", xref="paper", yref="paper", x0=ax_x, x1=ax_x,
                       y0=fy(page_y(r, lo) + 1.5), y1=fy(page_y(r, hi) - 1.5),
                       line=dict(color="black", width=3.5)))
    annotations.append(dict(xref="paper", yref="paper", x=fx(170), y=fy((top + bot) / 2 - 7),
                            text=ROW_LABELS[r], showarrow=False, xanchor="center",
                            yanchor="middle",
                            font=dict(family=FONT, size=37, color="black", weight="bold")))

# column titles
for c in range(4):
    annotations.append(dict(xref="paper", yref="paper", x=fx(page_x(c, 2) + 4), y=fy(25),
                            text=CELL_TYPES[c], showarrow=False, xanchor="center",
                            yanchor="middle",
                            font=dict(family=FONT, size=37, color="black", weight="bold")))

# significance bars
GAP = {1: 29, 2: 42, 3: 40}
for (r, c, a, b, lab, lev) in SIGNIFICANCE:
    xa, xb = page_x(c, a), page_x(c, b)
    xm = (xa + xb) / 2
    yy = fy(page_y(r, lev))
    g = min(GAP[len(lab)], (xb - xa) - 6) / 2
    for (p0, p1) in ((xa, xm - g), (xm + g, xb)):
        shapes.append(dict(type="line", xref="paper", yref="paper", x0=fx(p0), x1=fx(p1),
                           y0=yy, y1=yy, line=dict(color="#111111", width=2)))
    annotations.append(dict(xref="paper", yref="paper", x=fx(xm), y=yy, text=lab,
                            showarrow=False, xanchor="center", yanchor="middle", yshift=-6,
                            font=dict(family=FONT, size=28, color="#111111")))

# category labels and region brackets (bottom row)
for c in range(4):
    for i, lab in enumerate(SUBREGIONS):
        annotations.append(dict(xref="paper", yref="paper", x=fx(page_x(c, i)), y=fy(2410),
                                text=lab, showarrow=False, xanchor="center", yanchor="middle",
                                font=dict(family=FONT, size=25, color="black", weight="bold")))
    for (a, b, lab) in ((-0.42, 1.42, AREAS[0]), (1.58, 4.42, AREAS[1])):
        x0, x1 = fx(page_x(c, a)), fx(page_x(c, b))
        path = "M %f,%f L %f,%f L %f,%f L %f,%f" % (x0, fy(2418), x0, fy(2429), x1, fy(2429), x1, fy(2418))
        shapes.append(dict(type="path", xref="paper", yref="paper", path=path,
                           line=dict(color="black", width=2.5)))
        annotations.append(dict(xref="paper", yref="paper", x=fx(page_x(c, (a + b) / 2)),
                                y=fy(2448), text=lab, showarrow=False, xanchor="center",
                                yanchor="middle",
                                font=dict(family=FONT, size=25, color="black", weight="bold")))

layout["shapes"] = shapes
layout["annotations"] = annotations
fig.update_layout(layout)
fig.write_html("out.html")
